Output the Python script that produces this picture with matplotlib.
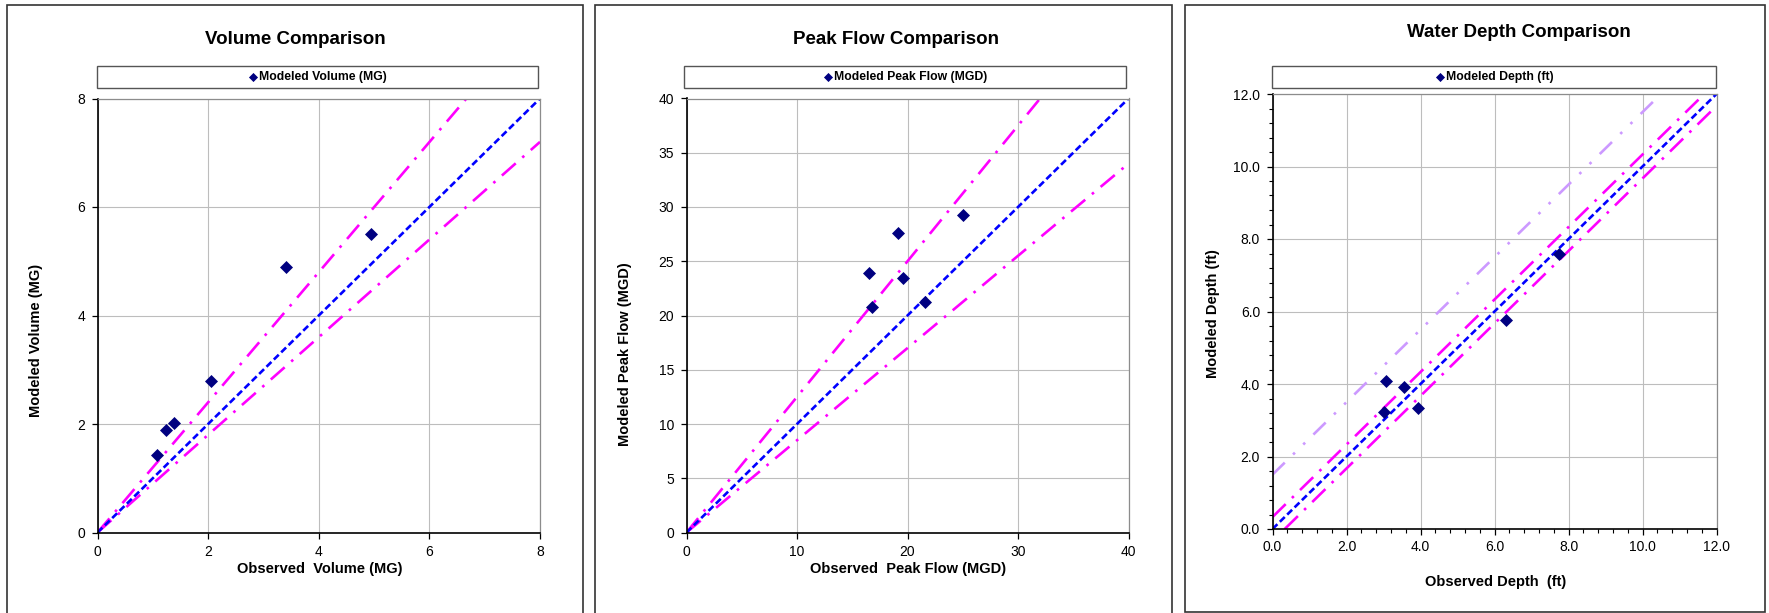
import matplotlib
matplotlib.use('Agg')
import matplotlib.pyplot as plt
from matplotlib.patches import Rectangle
from matplotlib.ticker import MultipleLocator, FormatStrFormatter

plt.rcParams['font.family'] = ['Liberation Sans', 'DejaVu Sans']

W, H = 1769, 613

# Volume (MG)
vol_obs = [1.07, 1.23, 1.38, 2.06, 3.41, 4.94]
vol_mod = [1.43, 1.89, 2.01, 2.79, 4.89, 5.51]
vol_one_x, vol_one_y = [0, 8], [0, 8]
vol_up_x, vol_up_y = [0, 6.67], [0, 8]
vol_lo_x, vol_lo_y = [0, 8], [0, 7.2]

# Peak flow (MGD)
flow_obs = [16.5, 16.8, 19.1, 19.6, 21.6, 25.05]
flow_mod = [23.9, 20.8, 27.6, 23.5, 21.2, 29.3]
flow_one_x, flow_one_y = [0, 40], [0, 40]
flow_up_x, flow_up_y = [0, 32], [0, 40]
flow_lo_x, flow_lo_y = [0, 40], [0, 34]

# Water depth (ft)
depth_obs = [3.06, 3.02, 3.55, 3.94, 6.30, 7.74]
depth_mod = [4.07, 3.23, 3.92, 3.33, 5.77, 7.60]
depth_one_x, depth_one_y = [0, 12], [0, 12]
depth_up_x, depth_up_y = [0, 11.67], [0.33, 12]
depth_lo_x, depth_lo_y = [0.33, 12], [0, 11.67]
depth_hi_x, depth_hi_y = [0, 10.5], [1.5, 12]

# line styles (Excel look)
LW = 1.9
BLUE_LS = (0, (2.6, 1.3))
MAG_LS = (0, (7, 3.3, 1, 3.3))
PURP_LS = (0, (6.5, 4.4, 1, 4.4, 1, 4.4))

fig = plt.figure(figsize=(W / 100, H / 100), dpi=100)


def fx(x):
    return x / W


def fy(y):
    return 1 - y / H


def add_panel(box, ax_px, leg_px, title, title_xy, xlabel, xlab_xy, ylabel, ylab_xy,
              xs, ys, legend_label, lines, lim, xstep, ystep, fmt, minor=None,
              xpad=5.0, ypad=5.0):
    # outer chart border
    bx0, by0, bx1, by1 = box
    fig.patches.append(Rectangle((fx(bx0), fy(by1)), fx(bx1 - bx0), (by1 - by0) / H,
                                 transform=fig.transFigure, fill=False, zorder=-1,
                                 edgecolor='#333333', lw=1.2, clip_on=False))
    x0, y0, x1, y1 = ax_px
    ax = fig.add_axes([fx(x0), fy(y1), fx(x1 - x0), (y1 - y0) / H])
    ax.set_xlim(0, lim)
    ax.set_ylim(0, lim)
    ax.xaxis.set_major_locator(MultipleLocator(xstep))
    ax.yaxis.set_major_locator(MultipleLocator(ystep))
    ax.xaxis.set_major_formatter(FormatStrFormatter(fmt))
    ax.yaxis.set_major_formatter(FormatStrFormatter(fmt))
    if minor:
        ax.xaxis.set_minor_locator(MultipleLocator(minor))
        ax.yaxis.set_minor_locator(MultipleLocator(minor))
        ax.tick_params(which='minor', direction='out', length=3, width=0.8, color='black')
    ax.tick_params(which='major', direction='out', length=4, width=0.9, labelsize=10)
    ax.tick_params(axis='x', which='major', pad=xpad)
    ax.tick_params(axis='y', which='major', pad=ypad)
    ax.grid(True, which='major', color='#bdbdbd', lw=0.8)
    ax.set_axisbelow(True)
    for s in ['top', 'right']:
        ax.spines[s].set_color('#8c8c8c')
        ax.spines[s].set_linewidth(0.9)
    for s in ['left', 'bottom']:
        ax.spines[s].set_color('black')
        ax.spines[s].set_linewidth(1.2)

    for lx, ly, col, ls in lines:
        ax.plot(lx, ly, color=col, lw=LW, linestyle=ls, zorder=2)
    sc = ax.scatter(xs, ys, marker='D', s=44, color='#000080', zorder=3,
                    label=legend_label, linewidths=0)

    # legend box above plot
    lx0, ly0, lx1, ly1 = leg_px
    fig.patches.append(Rectangle((fx(lx0), fy(ly1)), fx(lx1 - lx0), (ly1 - ly0) / H,
                                 transform=fig.transFigure, facecolor='white',
                                 edgecolor='#555555', lw=1.0, zorder=-1))
    fig.legend(handles=[sc], loc='center',
               bbox_to_anchor=(fx((lx0 + lx1) / 2), fy((ly0 + ly1) / 2)),
               bbox_transform=fig.transFigure, frameon=False,
               prop={'weight': 'bold', 'size': 8.8}, handletextpad=0.05,
               handlelength=0.9, borderpad=0, markerscale=0.7)

    fig.text(fx(title_xy[0]), fy(title_xy[1]), title, ha='center', va='center',
             fontsize=13.5, fontweight='bold')
    fig.text(fx(xlab_xy[0]), fy(xlab_xy[1]), xlabel, ha='center', va='center',
             fontsize=10.5, fontweight='bold')
    fig.text(fx(ylab_xy[0]), fy(ylab_xy[1]), ylabel, ha='center', va='center',
             fontsize=10.5, fontweight='bold', rotation=90)
    return ax


add_panel((6.5, 4.5, 583, 640), (97.5, 98.5, 540, 532.5), (96.5, 65.5, 538, 88),
          'Volume Comparison', (295, 39),
          'Observed  Volume (MG)', (320, 569),
          'Modeled Volume (MG)', (36, 340),
          vol_obs, vol_mod, 'Modeled Volume (MG)',
          [(vol_up_x, vol_up_y, '#ff00ff', MAG_LS),
           (vol_lo_x, vol_lo_y, '#ff00ff', MAG_LS),
           (vol_one_x, vol_one_y, '#0000ff', BLUE_LS)],
          8, 2, 2, '%d')

add_panel((595, 4.5, 1172, 640), (686.5, 98.5, 1128.5, 532.5), (684, 65.5, 1126, 88),
          'Peak Flow Comparison', (896, 39),
          'Observed  Peak Flow (MGD)', (908, 569),
          'Modeled Peak Flow (MGD)', (625, 354),
          flow_obs, flow_mod, 'Modeled Peak Flow (MGD)',
          [(flow_up_x, flow_up_y, '#ff00ff', MAG_LS),
           (flow_lo_x, flow_lo_y, '#ff00ff', MAG_LS),
           (flow_one_x, flow_one_y, '#0000ff', BLUE_LS)],
          40, 10, 5, '%d')

add_panel((1184.5, 4.5, 1765, 611.5), (1272.5, 94, 1716.5, 529), (1271.5, 65.5, 1716, 88),
          'Water Depth Comparison', (1519, 32.5),
          'Observed Depth  (ft)', (1496, 582),
          'Modeled Depth (ft)', (1213, 314),
          depth_obs, depth_mod, 'Modeled Depth (ft)',
          [(depth_hi_x, depth_hi_y, '#cc99ff', PURP_LS),
           (depth_up_x, depth_up_y, '#ff00ff', MAG_LS),
           (depth_lo_x, depth_lo_y, '#ff00ff', MAG_LS),
           (depth_one_x, depth_one_y, '#0000ff', BLUE_LS)],
          12, 2, 2, '%.1f', minor=0.4, xpad=4.0, ypad=5.0)

fig.savefig('out.png', dpi=100)
